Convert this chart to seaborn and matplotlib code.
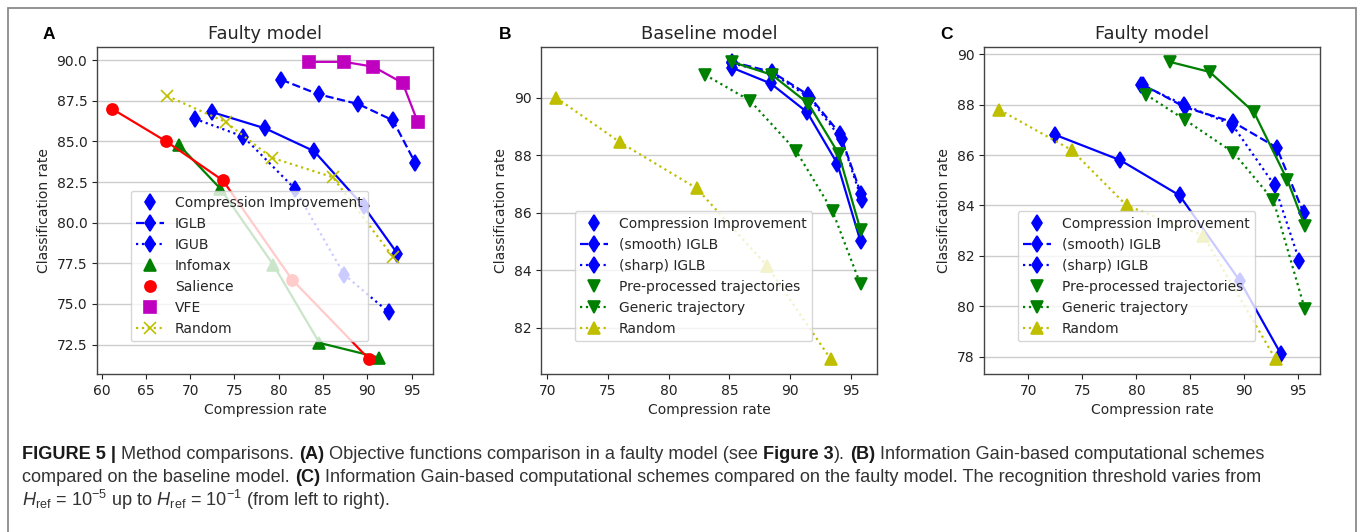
import numpy as np
import pandas as pd
import matplotlib
matplotlib.use('Agg')
import matplotlib.pyplot as plt
from matplotlib.lines import Line2D
from matplotlib.patches import Rectangle
from matplotlib.transforms import IdentityTransform
import seaborn as sns

# ---- values (compression rate, classification rate) ----
# A: faulty model, objective functions
a_ci_x = [72.5, 78.5, 84.0, 89.6, 93.4]
a_ci_y = [86.8, 85.8, 84.4, 81.0, 78.1]
a_iglb_x = [80.3, 84.5, 89.0, 92.9, 95.4]
a_iglb_y = [88.8, 87.9, 87.3, 86.3, 83.7]
a_igub_x = [70.5, 76.0, 81.8, 87.4, 92.4]
a_igub_y = [86.4, 85.3, 82.1, 76.8, 74.5]
a_infomax_x = [68.7, 73.4, 79.4, 84.6, 91.3]
a_infomax_y = [84.8, 82.1, 77.4, 72.6, 71.7]
a_salience_x = [61.2, 67.3, 73.7, 81.5, 90.2]
a_salience_y = [87.0, 85.0, 82.6, 76.5, 71.6]
a_vfe_x = [83.4, 87.4, 90.7, 94.0, 95.7]
a_vfe_y = [89.9, 89.9, 89.6, 88.6, 86.2]
a_random_x = [67.4, 74.0, 79.2, 86.1, 92.9]
a_random_y = [87.8, 86.2, 84.0, 82.8, 77.9]

# B: baseline model, IG schemes
b_ci_x = [85.2, 88.4, 91.4, 93.9, 95.8]
b_ci_y = [91.05, 90.5, 89.5, 87.7, 85.0]
b_smooth_x = [85.2, 88.5, 91.5, 94.1, 95.85]
b_smooth_y = [91.25, 90.9, 90.1, 88.75, 86.65]
b_sharp_x = [85.25, 88.55, 91.6, 94.25, 95.9]
b_sharp_y = [91.2, 90.85, 90.0, 88.55, 86.45]
b_pre_x = [85.2, 88.5, 91.5, 94.0, 95.8]
b_pre_y = [91.25, 90.8, 89.8, 88.05, 85.4]
b_gen_x = [83.0, 86.7, 90.5, 93.5, 95.8]
b_gen_y = [90.8, 89.9, 88.15, 86.05, 83.5]
b_random_x = [70.75, 76.0, 82.3, 88.1, 93.35]
b_random_y = [90.0, 88.45, 86.85, 84.15, 80.9]

# C: faulty model, IG schemes
c_ci_x = [72.5, 78.5, 84.0, 89.6, 93.4]
c_ci_y = [86.8, 85.8, 84.4, 81.0, 78.1]
c_smooth_x = [80.6, 84.5, 89.0, 93.0, 95.5]
c_smooth_y = [88.8, 87.9, 87.3, 86.3, 83.7]
c_sharp_x = [80.4, 84.4, 88.9, 92.8, 95.1]
c_sharp_y = [88.8, 88.0, 87.2, 84.8, 81.8]
c_pre_x = [83.1, 86.8, 90.9, 94.0, 95.6]
c_pre_y = [89.7, 89.3, 87.7, 85.0, 83.2]
c_gen_x = [80.9, 84.5, 89.0, 92.7, 95.6]
c_gen_y = [88.4, 87.4, 86.1, 84.2, 79.9]
c_random_x = [67.3, 74.0, 79.1, 86.2, 92.9]
c_random_y = [87.8, 86.2, 84.0, 82.8, 77.9]

BLUE, GREEN, RED, MAGENTA, YELLOW = '#0000ff', '#008000', '#ff0000', '#bf00bf', '#bfbf00'

sns.set_theme(style='ticks', color_codes=False, rc={
    'axes.edgecolor': '#444444', 'axes.linewidth': 1.0,
    'xtick.major.size': 3.5, 'ytick.major.size': 3.5,
    'xtick.major.width': 0.8, 'ytick.major.width': 0.8,
    'xtick.color': '#222222', 'ytick.color': '#222222',
    'xtick.labelsize': 10, 'ytick.labelsize': 10,
    'axes.labelsize': 10, 'legend.fontsize': 10,
})
plt.rcParams['font.family'] = ['DejaVu Sans']
plt.rcParams['mathtext.fontset'] = 'custom'
plt.rcParams['mathtext.rm'] = 'Liberation Sans'
plt.rcParams['mathtext.it'] = 'Liberation Sans:italic'
plt.rcParams['mathtext.bf'] = 'Liberation Sans:bold'

W, H = 1358, 532
MS = 8
fig = plt.figure(figsize=(W / 100, H / 100), dpi=100)


def axes_px(left, top, right, bottom):
    return fig.add_axes([left / W, 1 - bottom / H, (right - left) / W, (bottom - top) / H])


def series(ax, x, y, color, ls, marker, label, handles):
    sns.lineplot(x=x, y=y, ax=ax, color=color, linestyle=ls, marker=marker,
                 markersize=MS, markeredgecolor=color, markeredgewidth=1.2,
                 linewidth=1.6, sort=False, estimator=None, legend=False)
    # solid curves only show the marker in the legend
    hls = 'none' if ls == '-' else ls
    handles.append(Line2D([], [], color=color, linestyle=hls, marker=marker, markersize=MS,
                          markeredgecolor=color, markeredgewidth=1.2, linewidth=1.6, label=label))


def finish(ax, title, handles, letter, letter_x):
    ax.set_title(title, fontsize=12.8)
    ax.set_xlabel('Compression rate')
    ax.set_ylabel('Classification rate')
    ax.grid(axis='y', color='#cccccc', linewidth=1)
    ax.set_axisbelow(True)
    ax.legend(handles=handles, loc='lower left', bbox_to_anchor=(0.1, 0.1), borderaxespad=0,
              frameon=True, framealpha=0.8, edgecolor='#cccccc', fancybox=True)
    fig.text(letter_x / W, 1 - 39 / H, letter, fontsize=12.5, fontweight='bold',
             family='Liberation Sans', color='black')


axA = axes_px(97, 47, 433, 374)
hA = []
series(axA, a_ci_x, a_ci_y, BLUE, '-', 'd', 'Compression Improvement', hA)
series(axA, a_iglb_x, a_iglb_y, BLUE, '--', 'd', 'IGLB', hA)
series(axA, a_igub_x, a_igub_y, BLUE, ':', 'd', 'IGUB', hA)
series(axA, a_infomax_x, a_infomax_y, GREEN, '-', '^', 'Infomax', hA)
series(axA, a_salience_x, a_salience_y, RED, '-', 'o', 'Salience', hA)
series(axA, a_vfe_x, a_vfe_y, MAGENTA, '-', 's', 'VFE', hA)
series(axA, a_random_x, a_random_y, YELLOW, ':', 'x', 'Random', hA)
finish(axA, 'Faulty model', hA, 'A', 43)

axB = axes_px(541, 47, 877, 374)
hB = []
series(axB, b_ci_x, b_ci_y, BLUE, '-', 'd', 'Compression Improvement', hB)
series(axB, b_smooth_x, b_smooth_y, BLUE, '--', 'd', '(smooth) IGLB', hB)
series(axB, b_sharp_x, b_sharp_y, BLUE, ':', 'd', '(sharp) IGLB', hB)
series(axB, b_pre_x, b_pre_y, GREEN, '-', 'v', 'Pre-processed trajectories', hB)
series(axB, b_gen_x, b_gen_y, GREEN, ':', 'v', 'Generic trajectory', hB)
series(axB, b_random_x, b_random_y, YELLOW, ':', '^', 'Random', hB)
finish(axB, 'Baseline model', hB, 'B', 499)

axC = axes_px(984, 47, 1320, 374)
hC = []
series(axC, c_ci_x, c_ci_y, BLUE, '-', 'd', 'Compression Improvement', hC)
series(axC, c_smooth_x, c_smooth_y, BLUE, '--', 'd', '(smooth) IGLB', hC)
series(axC, c_sharp_x, c_sharp_y, BLUE, ':', 'd', '(sharp) IGLB', hC)
series(axC, c_pre_x, c_pre_y, GREEN, '-', 'v', 'Pre-processed trajectories', hC)
series(axC, c_gen_x, c_gen_y, GREEN, ':', 'v', 'Generic trajectory', hC)
series(axC, c_random_x, c_random_y, YELLOW, ':', '^', 'Random', hC)
finish(axC, 'Faulty model', hC, 'C', 940)

# outer frame
fig.patches.append(Rectangle((8, -10), W - 8 - 2, H - 8 + 10, transform=IdentityTransform(),
                             fill=False, edgecolor='#8a8a8a', linewidth=1.3, figure=fig))

# caption with mixed bold / regular runs
CAP = 13.05
renderer = fig.canvas.get_renderer()
space_px = 0.278 * CAP * 100 / 72


def caption_line(y_top, pieces, x=22):
    for s, weight in pieces:
        x += (len(s) - len(s.lstrip(' '))) * space_px
        core = s.strip(' ')
        t = fig.text(x, H - y_top, core, transform=IdentityTransform(), fontsize=CAP,
                     fontweight=weight, family='Liberation Sans',
                     color='#1a1a1a' if weight == 'bold' else '#333333', va='baseline')
        x += t.get_window_extent(renderer).width
        x += (len(s) - len(s.rstrip(' '))) * space_px


caption_line(459, [('FIGURE 5 |', 'bold'), (' Method comparisons. ', 'normal'), ('(A)', 'bold'),
                   (' Objective functions comparison in a faulty model (see ', 'normal'),
                   ('Figure 3', 'bold'), ('). ', 'normal'), ('(B)', 'bold'),
                   (' Information Gain-based computational schemes', 'normal')])
caption_line(482, [('compared on the baseline model. ', 'normal'), ('(C)', 'bold'),
                   (' Information Gain-based computational schemes compared on the faulty model. '
                    'The recognition threshold varies from', 'normal')])
caption_line(506, [(r'$H_{\mathrm{ref}}$ = 10$^{-5}$ up to $H_{\mathrm{ref}}$ = 10$^{-1}$ (from left to right).',
                    'normal')])

fig.savefig('out.png', dpi=100)
